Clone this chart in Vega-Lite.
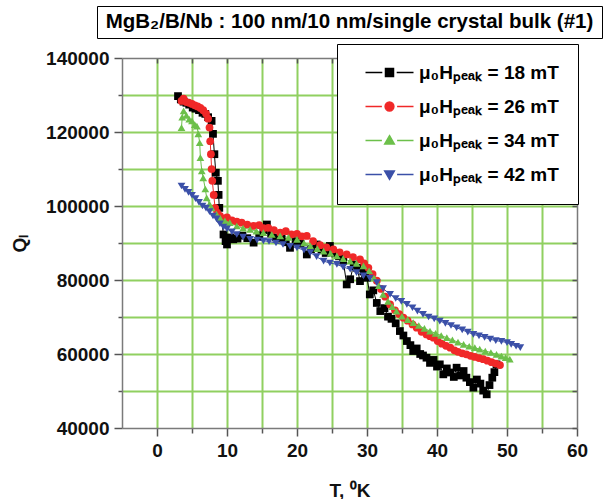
{
  "$schema": "https://vega.github.io/schema/vega-lite/v6.json",
  "padding": {"left": 10, "top": 5, "right": 2, "bottom": 2},
  "background": "white",
  "bounds": "flush",
  "center": true,
  "spacing": 20,
  "config": {
    "font": "Liberation Sans",
    "view": {"stroke": null},
    "axis": {
      "labelFont": "Liberation Sans", "labelFontWeight": "bold", "labelFontSize": 19, "labelColor": "#111111",
      "titleFont": "Liberation Sans", "titleFontWeight": "bold", "titleFontSize": 19, "titleColor": "#111111",
      "domainColor": "#7a7a7a", "domainWidth": 1.5, "tickColor": "#555555", "tickWidth": 1.5,
      "gridColor": "#90d060", "gridWidth": 2, "gridOpacity": 1
    },
    "legend": {
      "orient": "none", "legendX": 240, "legendY": 38, "title": null,
      "fillColor": "white", "strokeColor": "black", "padding": 19,
      "labelFont": "Liberation Sans", "labelFontWeight": "bold", "labelFontSize": 19, "labelColor": "black",
      "symbolSize": 64, "symbolOffset": 24, "labelOffset": 20, "rowPadding": 14, "symbolStrokeWidth": 1.5
    }
  },
  "vconcat": [
    {
      "width": 505,
      "height": 32,
      "view": {"stroke": "black", "strokeWidth": 1, "fill": "white"},
      "data": {"values": [{"t": "MgB₂/B/Nb : 100 nm/10 nm/single crystal bulk (#1)"}]},
      "mark": {"type": "text", "font": "Liberation Sans", "fontWeight": "bold", "fontSize": 20.5, "baseline": "middle", "align": "center", "color": "black"},
      "encoding": {"text": {"field": "t", "type": "nominal"}}
    },
    {
      "width": 455,
      "height": 370,
      "data": {"values": [
        {"s":"18","T":3.0,"Q":129700},{"s":"18","T":3.4,"Q":128800},{"s":"18","T":3.8,"Q":128200},{"s":"18","T":4.2,"Q":127900},{"s":"18","T":4.6,"Q":127400},{"s":"18","T":5.1,"Q":126600},{"s":"18","T":5.5,"Q":126300},{"s":"18","T":6.0,"Q":125900},{"s":"18","T":6.5,"Q":125200},{"s":"18","T":6.9,"Q":124900},{"s":"18","T":7.3,"Q":124000},{"s":"18","T":7.8,"Q":123000},{"s":"18","T":8.0,"Q":119500},{"s":"18","T":8.2,"Q":114000},{"s":"18","T":8.4,"Q":109000},{"s":"18","T":8.7,"Q":106800},{"s":"18","T":8.8,"Q":103000},{"s":"18","T":8.9,"Q":99500},{"s":"18","T":9.2,"Q":96500},{"s":"18","T":9.5,"Q":92300},{"s":"18","T":9.8,"Q":90500},{"s":"18","T":10.0,"Q":89600},{"s":"18","T":10.5,"Q":91500},{"s":"18","T":10.9,"Q":91000},{"s":"18","T":11.5,"Q":91200},{"s":"18","T":12.2,"Q":92000},{"s":"18","T":12.9,"Q":91300},{"s":"18","T":13.8,"Q":90100},{"s":"18","T":14.6,"Q":91800},{"s":"18","T":15.2,"Q":93500},{"s":"18","T":15.7,"Q":95000},{"s":"18","T":16.3,"Q":92500},{"s":"18","T":17.0,"Q":91500},{"s":"18","T":17.8,"Q":91200},{"s":"18","T":18.4,"Q":90200},{"s":"18","T":19.0,"Q":88700},{"s":"18","T":19.8,"Q":90500},{"s":"18","T":20.5,"Q":89800},{"s":"18","T":21.4,"Q":86900},{"s":"18","T":22.0,"Q":88300},{"s":"18","T":22.8,"Q":89600},{"s":"18","T":23.5,"Q":88200},{"s":"18","T":24.1,"Q":87300},{"s":"18","T":24.7,"Q":89200},{"s":"18","T":25.4,"Q":87200},{"s":"18","T":26.0,"Q":86400},{"s":"18","T":26.6,"Q":85200},{"s":"18","T":27.1,"Q":78800},{"s":"18","T":27.6,"Q":80200},{"s":"18","T":28.1,"Q":84200},{"s":"18","T":28.6,"Q":83300},{"s":"18","T":29.0,"Q":79700},{"s":"18","T":29.5,"Q":82300},{"s":"18","T":30.0,"Q":80600},{"s":"18","T":30.4,"Q":76100},{"s":"18","T":30.9,"Q":77200},{"s":"18","T":31.4,"Q":73800},{"s":"18","T":31.9,"Q":71600},{"s":"18","T":32.5,"Q":72400},{"s":"18","T":33.0,"Q":70100},{"s":"18","T":33.5,"Q":69500},{"s":"18","T":34.1,"Q":68300},{"s":"18","T":34.7,"Q":66200},{"s":"18","T":35.2,"Q":65000},{"s":"18","T":35.7,"Q":63500},{"s":"18","T":36.2,"Q":62400},{"s":"18","T":36.6,"Q":60800},{"s":"18","T":37.1,"Q":61500},{"s":"18","T":37.6,"Q":60000},{"s":"18","T":38.0,"Q":59600},{"s":"18","T":38.5,"Q":59000},{"s":"18","T":39.0,"Q":57600},{"s":"18","T":39.5,"Q":58400},{"s":"18","T":40.0,"Q":56600},{"s":"18","T":40.4,"Q":57200},{"s":"18","T":40.9,"Q":54500},{"s":"18","T":41.4,"Q":56100},{"s":"18","T":41.9,"Q":55000},{"s":"18","T":42.4,"Q":53800},{"s":"18","T":42.8,"Q":56300},{"s":"18","T":43.3,"Q":54200},{"s":"18","T":43.8,"Q":55400},{"s":"18","T":44.2,"Q":53600},{"s":"18","T":44.7,"Q":52400},{"s":"18","T":45.2,"Q":50900},{"s":"18","T":45.7,"Q":53100},{"s":"18","T":46.2,"Q":52000},{"s":"18","T":46.6,"Q":50100},{"s":"18","T":47.1,"Q":49100},{"s":"18","T":47.5,"Q":51600},{"s":"18","T":47.9,"Q":53600},{"s":"18","T":48.2,"Q":55100},{"s":"18","T":48.5,"Q":57200},
        {"s":"26","T":3.5,"Q":128400},{"s":"26","T":3.8,"Q":129000},{"s":"26","T":4.2,"Q":128100},{"s":"26","T":4.6,"Q":127900},{"s":"26","T":5.0,"Q":127600},{"s":"26","T":5.4,"Q":127200},{"s":"26","T":5.8,"Q":126900},{"s":"26","T":6.2,"Q":126500},{"s":"26","T":6.6,"Q":125900},{"s":"26","T":7.0,"Q":125000},{"s":"26","T":7.3,"Q":123600},{"s":"26","T":7.5,"Q":121200},{"s":"26","T":7.6,"Q":117500},{"s":"26","T":7.7,"Q":114000},{"s":"26","T":7.8,"Q":110000},{"s":"26","T":7.9,"Q":106800},{"s":"26","T":8.1,"Q":103000},{"s":"26","T":8.3,"Q":99500},{"s":"26","T":8.6,"Q":98200},{"s":"26","T":9.0,"Q":97300},{"s":"26","T":9.5,"Q":96600},{"s":"26","T":10.0,"Q":96900},{"s":"26","T":10.7,"Q":96100},{"s":"26","T":11.4,"Q":95800},{"s":"26","T":12.1,"Q":95500},{"s":"26","T":12.9,"Q":95000},{"s":"26","T":13.8,"Q":94600},{"s":"26","T":14.6,"Q":94800},{"s":"26","T":15.2,"Q":94000},{"s":"26","T":15.9,"Q":94100},{"s":"26","T":16.7,"Q":93500},{"s":"26","T":17.6,"Q":92800},{"s":"26","T":18.4,"Q":93200},{"s":"26","T":19.2,"Q":92300},{"s":"26","T":20.0,"Q":92500},{"s":"26","T":20.7,"Q":91800},{"s":"26","T":21.4,"Q":91900},{"s":"26","T":22.3,"Q":90500},{"s":"26","T":23.3,"Q":89400},{"s":"26","T":24.2,"Q":88800},{"s":"26","T":25.2,"Q":88300},{"s":"26","T":26.1,"Q":87500},{"s":"26","T":27.1,"Q":86900},{"s":"26","T":28.0,"Q":86200},{"s":"26","T":29.0,"Q":85600},{"s":"26","T":29.6,"Q":84500},{"s":"26","T":30.2,"Q":83300},{"s":"26","T":30.8,"Q":81600},{"s":"26","T":31.4,"Q":79800},{"s":"26","T":32.0,"Q":77600},{"s":"26","T":32.6,"Q":75500},{"s":"26","T":33.3,"Q":73400},{"s":"26","T":34.0,"Q":71800},{"s":"26","T":34.6,"Q":70800},{"s":"26","T":35.2,"Q":69800},{"s":"26","T":35.8,"Q":69000},{"s":"26","T":36.5,"Q":68000},{"s":"26","T":37.1,"Q":67100},{"s":"26","T":37.8,"Q":66000},{"s":"26","T":38.5,"Q":65300},{"s":"26","T":39.0,"Q":64800},{"s":"26","T":39.5,"Q":64400},{"s":"26","T":40.1,"Q":63500},{"s":"26","T":40.7,"Q":62800},{"s":"26","T":41.3,"Q":62200},{"s":"26","T":41.9,"Q":61700},{"s":"26","T":42.5,"Q":61000},{"s":"26","T":43.0,"Q":60600},{"s":"26","T":43.6,"Q":60200},{"s":"26","T":44.2,"Q":59900},{"s":"26","T":44.8,"Q":59500},{"s":"26","T":45.4,"Q":59200},{"s":"26","T":46.0,"Q":58900},{"s":"26","T":46.6,"Q":58600},{"s":"26","T":47.2,"Q":58200},{"s":"26","T":47.8,"Q":57800},{"s":"26","T":48.4,"Q":57400},{"s":"26","T":49.0,"Q":57000},
        {"s":"34","T":3.5,"Q":121200},{"s":"34","T":3.6,"Q":124000},{"s":"34","T":3.8,"Q":125700},{"s":"34","T":4.2,"Q":124500},{"s":"34","T":4.6,"Q":123500},{"s":"34","T":5.0,"Q":123000},{"s":"34","T":5.4,"Q":122000},{"s":"34","T":5.7,"Q":121600},{"s":"34","T":5.9,"Q":119500},{"s":"34","T":6.1,"Q":117100},{"s":"34","T":6.2,"Q":113100},{"s":"34","T":6.4,"Q":109500},{"s":"34","T":6.6,"Q":107600},{"s":"34","T":6.9,"Q":104600},{"s":"34","T":7.1,"Q":102200},{"s":"34","T":7.5,"Q":100500},{"s":"34","T":7.8,"Q":99500},{"s":"34","T":8.5,"Q":97800},{"s":"34","T":9.0,"Q":96800},{"s":"34","T":9.7,"Q":96000},{"s":"34","T":10.4,"Q":95500},{"s":"34","T":11.4,"Q":94600},{"s":"34","T":12.3,"Q":94000},{"s":"34","T":13.3,"Q":93700},{"s":"34","T":14.2,"Q":93200},{"s":"34","T":15.2,"Q":92800},{"s":"34","T":16.4,"Q":92300},{"s":"34","T":17.6,"Q":91900},{"s":"34","T":18.8,"Q":91500},{"s":"34","T":20.0,"Q":91000},{"s":"34","T":21.0,"Q":90000},{"s":"34","T":21.9,"Q":89200},{"s":"34","T":22.9,"Q":88500},{"s":"34","T":23.8,"Q":87800},{"s":"34","T":24.8,"Q":87200},{"s":"34","T":25.7,"Q":86500},{"s":"34","T":26.6,"Q":85800},{"s":"34","T":27.6,"Q":85100},{"s":"34","T":28.5,"Q":84500},{"s":"34","T":29.5,"Q":83800},{"s":"34","T":30.3,"Q":82500},{"s":"34","T":31.0,"Q":80500},{"s":"34","T":31.7,"Q":78500},{"s":"34","T":32.3,"Q":76100},{"s":"34","T":33.0,"Q":74200},{"s":"34","T":33.6,"Q":72800},{"s":"34","T":34.2,"Q":71600},{"s":"34","T":35.0,"Q":70200},{"s":"34","T":35.8,"Q":69300},{"s":"34","T":36.6,"Q":68500},{"s":"34","T":37.4,"Q":67700},{"s":"34","T":38.2,"Q":66900},{"s":"34","T":39.0,"Q":66200},{"s":"34","T":39.8,"Q":65600},{"s":"34","T":40.6,"Q":65000},{"s":"34","T":41.4,"Q":64400},{"s":"34","T":42.2,"Q":63800},{"s":"34","T":43.0,"Q":63200},{"s":"34","T":43.8,"Q":62600},{"s":"34","T":44.6,"Q":62100},{"s":"34","T":45.4,"Q":61700},{"s":"34","T":46.1,"Q":61300},{"s":"34","T":46.9,"Q":60800},{"s":"34","T":47.7,"Q":60400},{"s":"34","T":48.5,"Q":59900},{"s":"34","T":49.2,"Q":59400},{"s":"34","T":49.8,"Q":59000},{"s":"34","T":50.4,"Q":58600},
        {"s":"42","T":3.5,"Q":105400},{"s":"42","T":4.0,"Q":104500},{"s":"42","T":4.5,"Q":103700},{"s":"42","T":5.0,"Q":102900},{"s":"42","T":5.5,"Q":102000},{"s":"42","T":6.0,"Q":101000},{"s":"42","T":6.5,"Q":100000},{"s":"42","T":7.0,"Q":99400},{"s":"42","T":7.5,"Q":98500},{"s":"42","T":8.0,"Q":97300},{"s":"42","T":8.5,"Q":96500},{"s":"42","T":9.0,"Q":95200},{"s":"42","T":9.5,"Q":94300},{"s":"42","T":10.0,"Q":93800},{"s":"42","T":10.7,"Q":93000},{"s":"42","T":11.4,"Q":92300},{"s":"42","T":12.3,"Q":91600},{"s":"42","T":13.3,"Q":91000},{"s":"42","T":14.3,"Q":90800},{"s":"42","T":15.2,"Q":90600},{"s":"42","T":16.0,"Q":90400},{"s":"42","T":17.0,"Q":90000},{"s":"42","T":18.0,"Q":89600},{"s":"42","T":19.0,"Q":89100},{"s":"42","T":20.0,"Q":88700},{"s":"42","T":21.0,"Q":88100},{"s":"42","T":21.9,"Q":87400},{"s":"42","T":22.8,"Q":86300},{"s":"42","T":23.8,"Q":85100},{"s":"42","T":24.7,"Q":84600},{"s":"42","T":25.7,"Q":84200},{"s":"42","T":26.6,"Q":83500},{"s":"42","T":27.6,"Q":82900},{"s":"42","T":28.5,"Q":82000},{"s":"42","T":29.5,"Q":81100},{"s":"42","T":30.4,"Q":80500},{"s":"42","T":31.4,"Q":79300},{"s":"42","T":32.3,"Q":77700},{"s":"42","T":33.3,"Q":76100},{"s":"42","T":34.1,"Q":75000},{"s":"42","T":34.9,"Q":74200},{"s":"42","T":35.7,"Q":73400},{"s":"42","T":36.5,"Q":72500},{"s":"42","T":37.2,"Q":71600},{"s":"42","T":38.0,"Q":70700},{"s":"42","T":38.8,"Q":70000},{"s":"42","T":39.6,"Q":69500},{"s":"42","T":40.4,"Q":68900},{"s":"42","T":41.2,"Q":68300},{"s":"42","T":42.0,"Q":67700},{"s":"42","T":42.8,"Q":67100},{"s":"42","T":43.6,"Q":66500},{"s":"42","T":44.4,"Q":65900},{"s":"42","T":45.2,"Q":65300},{"s":"42","T":46.0,"Q":64900},{"s":"42","T":46.8,"Q":64500},{"s":"42","T":47.6,"Q":64000},{"s":"42","T":48.4,"Q":63600},{"s":"42","T":49.2,"Q":63400},{"s":"42","T":50.0,"Q":63100},{"s":"42","T":50.6,"Q":62600},{"s":"42","T":51.3,"Q":62100},{"s":"42","T":51.9,"Q":61700}
      ]},
      "layer": [
        {
          "mark": {"type": "line", "strokeWidth": 1},
          "encoding": {
            "x": {"field": "T", "type": "quantitative", "scale": {"domain": [-5, 60], "nice": false, "zero": false},
              "axis": {"orient": "bottom", "values": [0,5,10,15,20,25,30,35,40,45,50,55,60], "format": "d",
                "labelExpr": "datum.value % 10 === 0 ? datum.label : ''",
                "tickSize": {"condition": {"test": "datum.value % 10 === 0", "value": 8}, "value": 5},
                "grid": true, "gridOpacity": {"condition": {"test": "datum.value >= 60", "value": 0}, "value": 1},
                "labelPadding": 5, "labelFlush": false, "labelOverlap": false, "title": "T, ⁰K", "titlePadding": 21}},
            "y": {"field": "Q", "type": "quantitative", "scale": {"domain": [40000, 140000], "nice": false, "zero": false},
              "axis": {"orient": "left", "values": [40000,50000,60000,70000,80000,90000,100000,110000,120000,130000,140000], "format": "d",
                "labelExpr": "datum.value % 20000 === 0 ? datum.label : ''",
                "tickSize": {"condition": {"test": "datum.value % 20000 === 0", "value": 8}, "value": 4},
                "grid": true, "gridOpacity": {"condition": {"test": "datum.value <= 40000 || datum.value >= 140000", "value": 0}, "value": 1},
                "labelPadding": 5, "labelFlush": false, "labelOverlap": false, "title": "Qₗ", "titlePadding": 16}},
            "color": {"field": "s", "type": "nominal", "scale": {"domain": ["18","26","34","42"], "range": ["#000000","#f02828","#6cc04a","#3b50a8"]},
              "legend": {
                "labelExpr": "'μ₀Hₚₑₐₖ = ' + datum.label + ' mT'",
                "encode": {"symbols": {"update": {
                  "shape": {"signal": "datum.value === '18' ? 'M-6,0H-1.8M1.8,0H6M-1,-1H1V1H-1Z' : datum.value === '26' ? 'M-6,0H-1.9M1.9,0H6M-1.1,0A1.1,1.1,0,1,0,1.1,0A1.1,1.1,0,1,0,-1.1,0Z' : datum.value === '34' ? 'M-6,0H-1.9M1.9,0H6M0,-1.2L1.2,0.9H-1.2Z' : 'M-6,0H-1.9M1.9,0H6M0,1.2L1.2,-0.9H-1.2Z'"},
                  "stroke": {"scale": "color", "field": "value"},
                  "fill": {"scale": "color", "field": "value"},
                  "strokeWidth": {"value": 1.5},
                  "opacity": {"value": 1}
                }}}}}
          }
        },
        {
          "mark": {"type": "point", "filled": true, "size": 60, "opacity": 1},
          "encoding": {
            "x": {"field": "T", "type": "quantitative", "scale": {"domain": [-5, 60], "nice": false, "zero": false},
              "axis": {"orient": "top", "values": [0,5,10,15,20,25,30,35,40,45,50,55,60], "labels": false, "title": null, "grid": false, "tickSize": -5}},
            "y": {"field": "Q", "type": "quantitative", "scale": {"domain": [40000, 140000], "nice": false, "zero": false},
              "axis": {"orient": "right", "values": [40000,50000,60000,70000,80000,90000,100000,110000,120000,130000,140000], "labels": false, "title": null, "grid": false, "tickSize": -5}},
            "color": {"field": "s", "type": "nominal", "scale": {"domain": ["18","26","34","42"], "range": ["#000000","#f02828","#6cc04a","#3b50a8"]},
              "legend": {
                "labelExpr": "'μ₀Hₚₑₐₖ = ' + datum.label + ' mT'",
                "encode": {"symbols": {"update": {
                  "shape": {"signal": "datum.value === '18' ? 'M-6,0H-1.8M1.8,0H6M-1,-1H1V1H-1Z' : datum.value === '26' ? 'M-6,0H-1.9M1.9,0H6M-1.1,0A1.1,1.1,0,1,0,1.1,0A1.1,1.1,0,1,0,-1.1,0Z' : datum.value === '34' ? 'M-6,0H-1.9M1.9,0H6M0,-1.2L1.2,0.9H-1.2Z' : 'M-6,0H-1.9M1.9,0H6M0,1.2L1.2,-0.9H-1.2Z'"},
                  "stroke": {"scale": "color", "field": "value"},
                  "fill": {"scale": "color", "field": "value"},
                  "strokeWidth": {"value": 1.5},
                  "opacity": {"value": 1}
                }}}}},
            "shape": {"field": "s", "type": "nominal", "scale": {"domain": ["42","34","26","18"], "range": ["triangle-down","triangle-up","circle","square"]}, "legend": null}
          }
        }
      ],
      "resolve": {"axis": {"x": "independent", "y": "independent"}}
    }
  ]
}
